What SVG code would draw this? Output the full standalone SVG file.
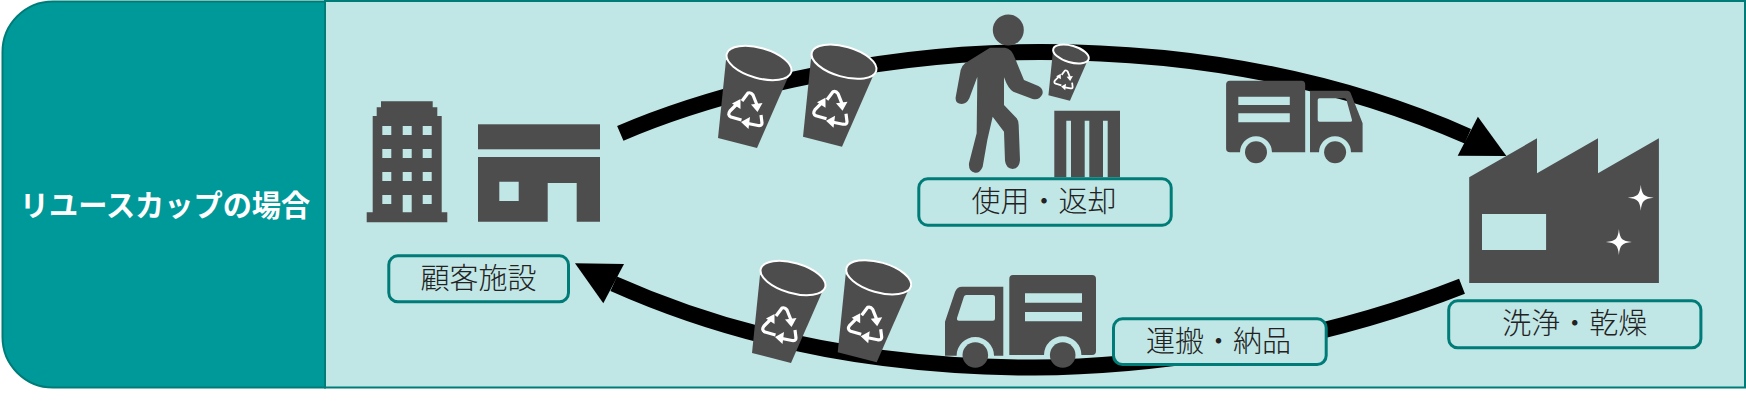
<svg xmlns="http://www.w3.org/2000/svg" width="1746" height="404" viewBox="0 0 1746 404">
<style>
.ic{fill:#4d4d4d}
.lb{fill:#c0e6e5;stroke:#007c78;stroke-width:3}
.t{font-family:"Noto Sans CJK JP","Noto Sans",sans-serif;font-size:29px;font-weight:300;text-anchor:middle;fill:#222}
.flow{fill:none;stroke:#000;stroke-width:16}
.rc{fill:none;stroke:#fff;stroke-width:3.2;stroke-linejoin:round}
</style>
<defs>
<g id="cup">
<polygon class="ic" points="-33,-3 -41,75 -2,85 30,12"/>
<ellipse class="ic" rx="33.5" ry="15" transform="rotate(16)" stroke="#fff" stroke-width="2" vector-effect="non-scaling-stroke"/>
<g transform="translate(-14 47)">
<path class="rc" d="M-3,-9 L3,-17 Q6,-18 8,-15 L12,-5"/><path fill="#fff" d="M12.5,2 L6,-5.5 L17.5,-7z"/>
<path class="rc" d="M-3.5,10 L-14,7 Q-18,5 -15,1 L-9,-5"/><path fill="#fff" d="M-4.5,-11 L-4.5,-1 L-13,-6.5z"/>
<path class="rc" d="M16,5 L17,13 Q17,16 13,15.5 L3,13.5"/><path fill="#fff" d="M-4,12 L5,7 L3.5,19z"/>
</g>
</g>
<path id="star" fill="#fff" d="M0,-13 C1,-3 3,-1 13,0 C3,1 1,3 0,13 C-1,3 -3,1 -13,0 C-3,-1 -1,-3 0,-13z"/>
</defs>
<g id="panel">
<path d="M325,1.5 H53 A50.5,50.5 0 0 0 2.5,52 V337 A50.5,50.5 0 0 0 53,387.5 H325z" fill="#009999" stroke="#007c78" stroke-width="2"/>
<path d="M325,1 H1745 V387.5 H325z" fill="#c0e6e5" stroke="#007c78" stroke-width="2"/>
<text x="165" y="216" font-family="'Noto Sans CJK JP','Noto Sans',sans-serif" font-size="29.2" font-weight="700" fill="#fff" text-anchor="middle">リユースカップの場合</text>
</g>
<g id="connectors">
<path class="flow" d="M620.3,133.3 C700,99 860,52 1040,52 C1200,52 1340,80 1467.8,136.2"/>
<polygon points="1506.4,156 1477.9,116.7 1457.7,155.7"/>
<path class="flow" d="M1462,286.3 C1300,350 1130,368 1030,367.5 C880,367 740,340 613.7,283.7"/>
<polygon points="575,263.3 624,264 603.3,303.3"/>
</g>
<g id="building">
<path class="ic" fill-rule="evenodd" d="M381,101.3H432.7V107.3H437.3V116H441.7V212.3H447.3V222.3H366.7V212.3H372.7V116H376.7V107.3H381z
M382.3,126v9h9v-9z M402.7,126v9h9v-9z M422.7,126v9h9v-9z
M382.3,149v9h9v-9z M402.7,149v9h9v-9z M422.7,149v9h9v-9z
M382.3,172v9h9v-9z M402.7,172v9h9v-9z M422.7,172v9h9v-9z
M382.3,195v9h9v-9z M402.7,195v17.3h9v-17.3z M422.7,195v9h9v-9z"/>
</g>
<g id="shop">
<rect class="ic" x="478" y="124.3" width="122" height="25"/>
<path class="ic" fill-rule="evenodd" d="M478,157H600V221.7H576.7V183H547.7V221.7H478z M499.3,181.7V201H518.7V181.7z"/>
</g>
<g id="label-customer">
<rect class="lb" x="388.8" y="255.8" width="179.7" height="46" rx="9"/>
<text class="t" x="478.5" y="288.5">顧客施設</text>
</g>
<g id="cups-out">
<use href="#cup" x="759" y="63"/>
<use href="#cup" x="844" y="61.7"/>
</g>
<g id="person">
<circle class="ic" cx="1008.3" cy="30" r="15.5"/>
<path class="ic" transform="translate(900 0) scale(.33333)" d="M270,143 H315 Q335,145 345,175 L372,240 L415,258 Q432,268 427,283 Q418,302 398,297 L340,275 Q325,268 312,232 V315 L350,355 Q356,362 356,375 L360,480 Q358,505 338,507 Q318,505 315,482 L312,395 L278,350 L262,420 L248,500 Q240,520 225,518 Q205,515 207,490 L230,400 L232,230 L208,295 Q200,312 185,312 Q165,310 167,292 L182,210 Q185,198 195,190z"/>
</g>
<g id="cup-small"><use href="#cup" transform="translate(1071 54) scale(.55)"/></g>
<g id="bin">
<path class="ic" fill-rule="evenodd" d="M1054.3,110.7H1120V177.3H1107.7V120.7H1103V177.3H1089.3V120.7H1084.7V177.3H1071V120.7H1066.3V177.3H1054.3z"/>
</g>
<g id="label-use">
<rect class="lb" x="918.8" y="178.8" width="252.4" height="46.4" rx="9"/>
<text class="t" x="1044" y="212">使用・返却</text>
</g>
<g id="truck-top">
<path class="ic" fill-rule="evenodd" d="M1230,80.7H1301.5Q1305.2,80.7 1305.2,84.5V152.3H1272A16,16 0 0 0 1240,152.3H1230Q1226.1,152.3 1226.1,148.5V84.5Q1226.1,80.7 1230,80.7z M1238.3,96.7V105H1289.8V96.7z M1238.3,113.3V122.3H1289.8V113.3z"/>
<path class="ic" fill-rule="evenodd" d="M1310,90.7H1347Q1350,90.7 1351,94L1362.6,123.3V152.3H1351A16,16 0 0 0 1319,152.3H1310z M1319.5,98.3Q1317.7,98.3 1317.7,100V120Q1317.7,121.7 1319.5,121.7H1350.5Q1352.5,121.7 1352,120L1346.5,100Q1346,98.3 1344,98.3z"/>
<circle class="ic" cx="1256" cy="152.3" r="11"/>
<circle class="ic" cx="1335.1" cy="152.3" r="11"/>
</g>
<g id="factory">
<path class="ic" fill-rule="evenodd" d="M1469.2,177.3L1537,138.3V173.3L1598,138.3V173.3L1658.9,138.3V283H1469.2z M1482,214V250H1546.1V214z"/>
<use href="#star" x="1640.8" y="197.7"/>
<use href="#star" x="1618.9" y="242"/>
</g>
<g id="label-wash">
<rect class="lb" x="1448.7" y="300.8" width="252.2" height="47" rx="9"/>
<text class="t" x="1574.7" y="334">洗浄・乾燥</text>
</g>
<g id="cups-back">
<use href="#cup" x="793" y="278"/>
<use href="#cup" x="878.7" y="277.3"/>
</g>
<g id="truck-bottom">
<path class="ic" fill-rule="evenodd" d="M1013,275H1092Q1096,275 1096,279V351Q1096,355 1092,355H1081.4A18.7,18.7 0 0 0 1044,355H1009.3V279Q1009.3,275 1013,275z M1025,293.3V302.7H1082V293.3z M1025,312V321.3H1082V312z"/>
<path class="ic" fill-rule="evenodd" d="M1003.3,286.7V355.7H994A18.7,18.7 0 0 0 956.6,355.7H945V321.7L955,292Q957,286.7 962,286.7z M966.5,295Q964,295 963.5,298L957,318Q956.5,320.7 959,320.7H993Q995,320.7 995,318.5V297Q995,295 993,295z"/>
<circle class="ic" cx="975.3" cy="355" r="12.8"/>
<circle class="ic" cx="1062.7" cy="355" r="12.8"/>
</g>
<g id="label-delivery">
<rect class="lb" x="1113.5" y="318.8" width="212.7" height="45.7" rx="9"/>
<text class="t" x="1218.5" y="352">運搬・納品</text>
</g>
</svg>
